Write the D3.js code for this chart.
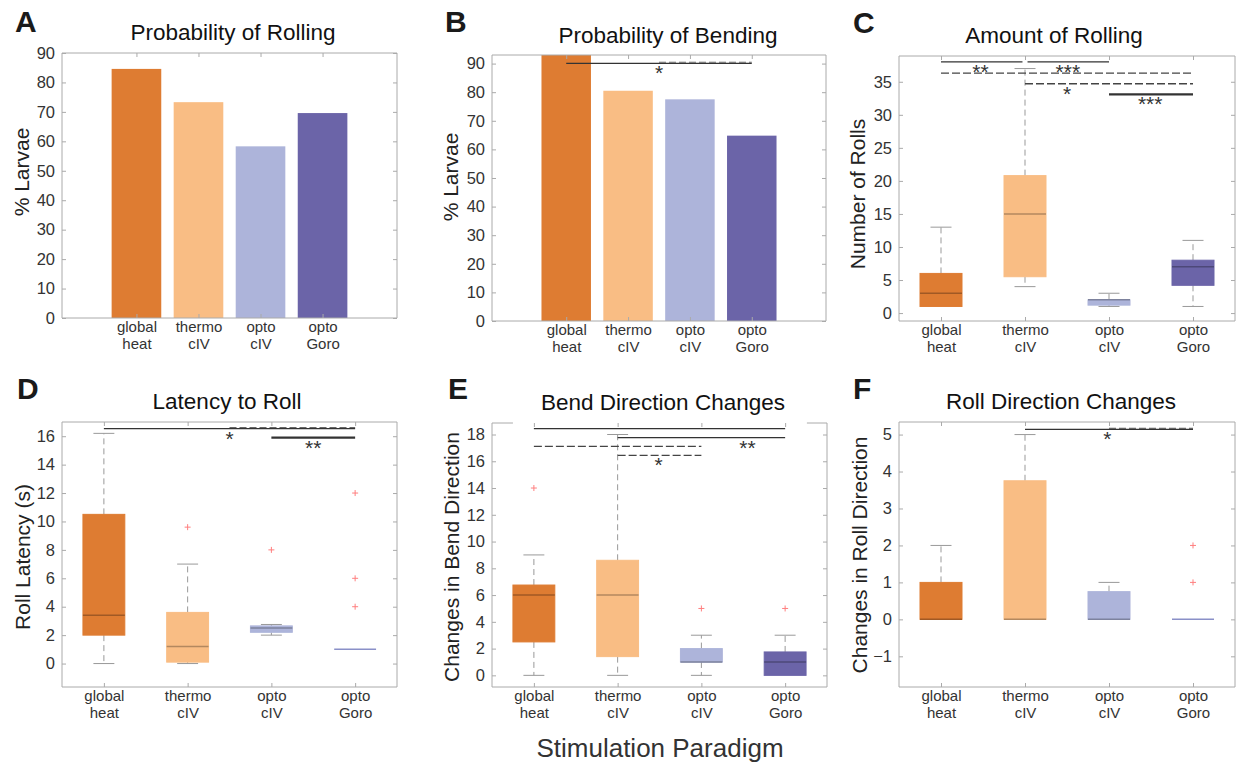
<!DOCTYPE html>
<html>
<head>
<meta charset="utf-8">
<script src="https://cdn.jsdelivr.net/npm/d3@7"></script>
<style>
  body { margin: 0; background: #fff; }
  svg { font-family: "Liberation Sans", Arial, Helvetica, sans-serif; }
</style>
</head>
<body>
<svg id="fig" width="1238" height="765"></svg>
<script>
// ---- data ----
const groupTop = ["global", "thermo", "opto", "opto"];
const groupBottom = ["heat", "cIV", "cIV", "Goro"];
const groupColors = ["#de7c32", "#f9bd84", "#adb4da", "#6b64a8"];

// bar panels (% larvae)
const rollingPct = [84.6, 73.3, 58.3, 69.6];
const bendingPct = [95, 80.5, 77.5, 64.8];

// boxplot stats per group: [lower whisker, q1, median, q3, upper whisker]
const rollCount = [[1, 1, 3, 6, 13], [4, 5.5, 15, 20.8, 37], [1, 1.2, 2, 2, 3], [1, 4.2, 7, 8, 11]];
const rollCountOut = [[], [], [], []];
const rollLatency = [[0, 2, 3.4, 10.5, 16.2], [0, 0.1, 1.2, 3.6, 7], [2, 2.2, 2.5, 2.65, 2.75], [1, 1, 1, 1, 1]];
const rollLatencyOut = [[], [9.6], [8], [12, 6, 4]];
const bendChanges = [[0, 2.5, 6, 6.75, 9], [0, 1.4, 6, 8.6, 18], [0, 1, 1, 2, 3], [0, 0, 1, 1.75, 3]];
const bendChangesOut = [[14], [], [5], [5]];
const rollDirChanges = [[0, 0, 0, 1, 2], [0, 0, 0, 3.75, 5], [0, 0, 0, 0.75, 1], [0, 0, 0, 0, 0]];
const rollDirChangesOut = [[], [], [], [2, 1]];

// significance bars: [from group, to group, height, stars, star position, style]
const sigB = [[1, 4, 90.1, "*", 2.5, "mixed"]];
const sigC = [
  [1, 1.97, 38.0, "**", 1.47, "solid"],
  [2.03, 3, 38.0, "***", 2.51, "solid"],
  [1, 4, 36.3, "", 0, "dashed"],
  [2, 4, 34.7, "*", 2.5, "dashed"],
  [3, 4, 33.1, "***", 3.49, "thick"]
];
const sigD = [[1, 4, 16.54, "*", 2.5, "mixed"], [3, 4, 15.9, "**", 3.5, "thick"]];
const sigE = [
  [1, 4, 18.44, "", 0, "solid"],
  [2, 4, 17.77, "**", 3.55, "solid"],
  [1, 3, 17.11, "", 0, "dashed"],
  [2, 3, 16.44, "*", 2.49, "dashed"]
];
const sigF = [[2, 4, 5.14, "*", 2.98, "mixed"]];

const cats = [1, 2, 3, 4];
const svg = d3.select("#fig");
const FONT = '"Liberation Sans", Arial, Helvetica, sans-serif';
const AXIS_COL = "#aaa";

//panel frame: scales, clip, mark layer
function makePanel(p, id) {
  const b = p.box;
  const g = svg.append("g");
  const x = d3.scaleLinear().domain(p.xdom).range([b.x0, b.x1]);
  const y = d3.scaleLinear().domain(p.ydom).range([b.y1, b.y0]);

  svg.append("clipPath").attr("id", "clip" + id)
    .append("rect").attr("x", b.x0).attr("y", b.y0)
    .attr("width", b.x1 - b.x0).attr("height", b.y1 - b.y0);

  const marks = g.append("g").attr("clip-path", `url(#clip${id})`);
  return { g, marks, x, y };
}

function drawAxes(P, p) {
  const { g, x, y } = P, b = p.box;
  const left = g.append("g").attr("transform", `translate(${b.x0},0)`)
    .call(d3.axisLeft(y).tickValues(p.yticks).tickSizeInner(-4).tickSizeOuter(0).tickPadding(7));
  const right = g.append("g").attr("transform", `translate(${b.x1},0)`)
    .call(d3.axisRight(y).tickValues(p.yticks).tickSizeInner(-4).tickSizeOuter(0).tickFormat(""));
  const top = g.append("g").attr("transform", `translate(0,${b.y0})`)
    .call(d3.axisTop(x).tickValues(cats).tickSizeInner(-4).tickSizeOuter(0).tickFormat(""));
  const bottom = g.append("g").attr("transform", `translate(0,${b.y1})`)
    .call(d3.axisBottom(x).tickValues(cats).tickSizeInner(-4).tickSizeOuter(0).tickFormat(""));

  [left, right, top, bottom].forEach(a => {
    a.select(".domain").remove();
    a.selectAll(".tick line").attr("stroke", AXIS_COL);
  });
  left.attr("font-family", FONT).attr("font-size", 16.5);
  left.selectAll(".tick text").attr("fill", "#333");

  bottom.selectAll(".tick text").remove();
  const lbl = bottom.selectAll(".tick").append("text")
    .attr("fill", "#333").attr("font-family", FONT).attr("font-size", 15)
    .attr("text-anchor", "middle");
  lbl.append("tspan").attr("x", 0).attr("y", 14).text(d => groupTop[d - 1]);
  lbl.append("tspan").attr("x", 0).attr("y", 31).text(d => groupBottom[d - 1]);

  // box outline
  const frame = g.append("g").attr("stroke", AXIS_COL).attr("fill", "none");
  frame.append("line").attr("x1", b.x0).attr("x2", b.x0).attr("y1", b.y0).attr("y2", b.y1);
  frame.append("line").attr("x1", b.x1).attr("x2", b.x1).attr("y1", b.y0).attr("y2", b.y1);
  frame.append("line").attr("x1", b.x0).attr("x2", b.x1).attr("y1", b.y1).attr("y2", b.y1);
  if (p.topGap) {
    frame.append("line").attr("x1", b.x0).attr("x2", x(p.topGap[0])).attr("y1", b.y0).attr("y2", b.y0);
    frame.append("line").attr("x1", x(p.topGap[1])).attr("x2", b.x1).attr("y1", b.y0).attr("y2", b.y0);
  } else {
    frame.append("line").attr("x1", b.x0).attr("x2", b.x1).attr("y1", b.y0).attr("y2", b.y0);
  }

  // title, letter, ylabel
  g.append("text").attr("x", p.title[1]).attr("y", p.title[2])
    .attr("text-anchor", "middle").attr("font-size", 22.5).attr("fill", "#111")
    .text(p.title[0]);
  g.append("text").attr("x", p.letter[1]).attr("y", p.letter[2])
    .attr("font-size", 30).attr("font-weight", "bold").attr("fill", "#1a1a1a")
    .text(p.letter[0]);
  g.append("text")
    .attr("transform", `translate(${p.ylabel[1]},${p.ylabel[2]}) rotate(-90)`)
    .attr("text-anchor", "middle").attr("dominant-baseline", "central")
    .attr("font-size", 21).attr("fill", "#222")
    .text(p.ylabel[0]);
}

function drawBars(P, vals) {
  const { marks, x, y } = P;
  marks.selectAll(".bar").data(vals).join("rect")
    .attr("class", "bar")
    .attr("x", (d, i) => x(i + 1 - 0.4))
    .attr("width", x(0.8) - x(0))
    .attr("y", d => y(d))
    .attr("height", d => y(0) - y(d))
    .attr("fill", (d, i) => groupColors[i]);
}

function drawBoxes(P, stats, outliers) {
  const { marks, x, y } = P;
  const hw = x(1.25) - x(1);
  stats.forEach((s, i) => {
    const [lo, q1, med, q3, hi] = s, cx = x(i + 1), col = groupColors[i];
    const wg = marks.append("g").attr("stroke", "#999").attr("stroke-width", 1);
    if (hi > q3) {
      wg.append("line").attr("x1", cx).attr("x2", cx).attr("y1", y(q3)).attr("y2", y(hi))
        .attr("stroke-dasharray", "6,4");
      wg.append("line").attr("x1", cx - hw / 2).attr("x2", cx + hw / 2).attr("y1", y(hi)).attr("y2", y(hi));
    }
    if (lo < q1) {
      wg.append("line").attr("x1", cx).attr("x2", cx).attr("y1", y(q1)).attr("y2", y(lo))
        .attr("stroke-dasharray", "6,4");
      wg.append("line").attr("x1", cx - hw / 2).attr("x2", cx + hw / 2).attr("y1", y(lo)).attr("y2", y(lo));
    }
    if (q3 > q1) {
      marks.append("rect")
        .attr("x", cx - hw).attr("width", 2 * hw)
        .attr("y", y(q3)).attr("height", y(q1) - y(q3))
        .attr("fill", col).attr("stroke", col).attr("stroke-width", 1);
      marks.append("line").attr("x1", cx - hw).attr("x2", cx + hw)
        .attr("y1", y(med)).attr("y2", y(med))
        .attr("stroke", d3.interpolateRgb(col, "#000")(0.28)).attr("stroke-width", 1.5);
    } else {
      marks.append("line").attr("x1", cx - hw).attr("x2", cx + hw)
        .attr("y1", y(med)).attr("y2", y(med))
        .attr("stroke", "#8a90c8").attr("stroke-width", 1.5);
    }
    outliers[i].forEach(v => {
      marks.append("path")
        .attr("d", `M${cx - 3},${y(v)}H${cx + 3}M${cx},${y(v) - 3}V${y(v) + 3}`)
        .attr("stroke", "#ff7f7f").attr("stroke-width", 1);
    });
  });
}

function drawSig(P, sig) {
  const { g, x, y } = P;
  const sg = g.append("g");
  sig.forEach(([a, b, h, stars, sx, style]) => {
    const yy = y(h), x1 = x(a), x2 = x(b);
    if (style === "dashed") {
      sg.append("line").attr("x1", x1).attr("x2", x2).attr("y1", yy).attr("y2", yy)
        .attr("stroke", "#444").attr("stroke-width", 1.3).attr("stroke-dasharray", "8,3");
    } else if (style === "mixed") {
      sg.append("line").attr("x1", x1).attr("x2", x2).attr("y1", yy).attr("y2", yy)
        .attr("stroke", "#333").attr("stroke-width", 1.2);
      sg.append("line").attr("x1", (x1 + x2) / 2).attr("x2", x2).attr("y1", yy - 1).attr("y2", yy - 1)
        .attr("stroke", "#666").attr("stroke-width", 1.1).attr("stroke-dasharray", "7,3");
    } else {
      sg.append("line").attr("x1", x1).attr("x2", x2).attr("y1", yy).attr("y2", yy)
        .attr("stroke", "#333").attr("stroke-width", style === "thick" ? 2.2 : 1.3);
    }
    if (stars) {
      sg.append("text").attr("x", x(sx)).attr("y", yy + 17)
        .attr("text-anchor", "middle").attr("font-size", 21).attr("fill", "#333")
        .text(stars);
    }
  });
}

// ---- panels ----
const panels = [
  { id: "A", box: { x0: 62, x1: 397, y0: 53, y1: 318 }, xdom: [-0.2, 5.2], ydom: [0, 90],
    yticks: d3.range(0, 91, 10), title: ["Probability of Rolling", 233, 40],
    letter: ["A", 15, 32], ylabel: ["% Larvae", 21, 172], bars: rollingPct },
  { id: "B", box: { x0: 492, x1: 826, y0: 55, y1: 321 }, xdom: [-0.2, 5.2], ydom: [0, 93],
    yticks: d3.range(0, 91, 10), title: ["Probability of Bending", 668, 43],
    letter: ["B", 445, 32], ylabel: ["% Larvae", 450, 177], bars: bendingPct, sig: sigB },
  { id: "C", box: { x0: 899, x1: 1235, y0: 56, y1: 321 }, xdom: [0.5, 4.5], ydom: [-1.2, 38.9],
    yticks: d3.range(0, 36, 5), title: ["Amount of Rolling", 1054, 43],
    letter: ["C", 853, 33], ylabel: ["Number of Rolls", 857, 194],
    stats: rollCount, out: rollCountOut, sig: sigC },
  { id: "D", box: { x0: 62, x1: 397, y0: 422, y1: 687 }, xdom: [0.5, 4.5], ydom: [-1.65, 17],
    yticks: d3.range(0, 17, 2), title: ["Latency to Roll", 227, 409],
    letter: ["D", 17, 399], ylabel: ["Roll Latency (s)", 22, 557],
    stats: rollLatency, out: rollLatencyOut, sig: sigD },
  { id: "E", box: { x0: 492, x1: 827, y0: 423, y1: 687 }, xdom: [0.5, 4.5], ydom: [-0.87, 18.86],
    yticks: d3.range(0, 19, 2), title: ["Bend Direction Changes", 663, 410],
    letter: ["E", 448, 399], ylabel: ["Changes in Bend Direction", 451, 557],
    stats: bendChanges, out: bendChangesOut, sig: sigE, topGap: [0.75, 4.26] },
  { id: "F", box: { x0: 899, x1: 1235, y0: 422, y1: 687 }, xdom: [0.5, 4.5], ydom: [-1.83, 5.34],
    yticks: d3.range(-1, 6, 1), title: ["Roll Direction Changes", 1061, 409],
    letter: ["F", 853, 399], ylabel: ["Changes in Roll Direction", 859, 555],
    stats: rollDirChanges, out: rollDirChangesOut, sig: sigF }
];

panels.forEach(p => {
  const P = makePanel(p, p.id);
  if (p.bars) drawBars(P, p.bars);
  if (p.stats) drawBoxes(P, p.stats, p.out);
  drawAxes(P, p);
  if (p.sig) drawSig(P, p.sig);
});

svg.append("text").attr("x", 660).attr("y", 757)
  .attr("text-anchor", "middle").attr("font-size", 26).attr("fill", "#333")
  .text("Stimulation Paradigm");
</script>
</body>
</html>
